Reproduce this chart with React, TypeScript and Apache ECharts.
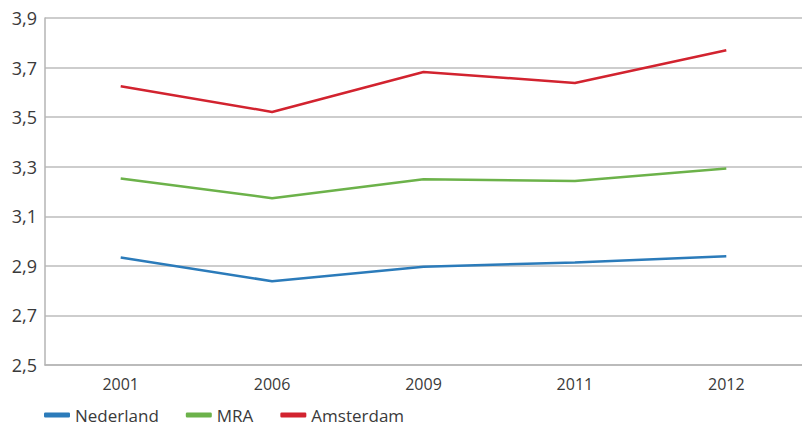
import React, { useEffect, useRef } from "react";
import * as echarts from "echarts";

const years = ["2001", "2006", "2009", "2011", "2012"];
const nederland = [2.934, 2.838, 2.896, 2.914, 2.939];
const mra = [3.252, 3.173, 3.249, 3.242, 3.293];
const amsterdam = [3.625, 3.521, 3.682, 3.638, 3.77];

const FONT = "'Open Sans', Lato, sans-serif";

export default function App() {
  const ref = useRef<HTMLDivElement>(null);
  useEffect(() => {
    const chart = echarts.init(ref.current!, null, { renderer: "svg" });
    const mk = (name: string, data: number[], color: string) => ({
      name,
      type: "line",
      data,
      symbol: "none",
      lineStyle: { color, width: 2.5 },
      itemStyle: { color },
    });
    chart.setOption({
      animation: false,
      backgroundColor: "#ffffff",
      grid: { left: 45, top: 18, width: 770, height: 347 },
      legend: {
        left: 44,
        top: 405,
        padding: 0,
        icon: "roundRect",
        itemWidth: 26,
        itemHeight: 5,
        itemGap: 27,
        textStyle: { fontFamily: FONT, fontSize: 17, lineHeight: 20, color: "#3a3a3a" },
        data: ["Nederland", "MRA", "Amsterdam"],
      },
      xAxis: {
        type: "category",
        data: years,
        boundaryGap: true,
        axisLine: { show: true, lineStyle: { color: "#b5b5b5", width: 1.5 } },
        axisTick: { show: false },
        axisLabel: { fontFamily: FONT, fontSize: 16, color: "#3a3a3a", margin: 11 },
      },
      yAxis: {
        type: "value",
        min: 2.5,
        max: 3.9,
        interval: 0.2,
        axisLine: { show: true, lineStyle: { color: "#b5b5b5", width: 1.5 } },
        axisTick: { show: false },
        splitLine: { lineStyle: { color: "#bdbdbd", width: 1.5 } },
        axisLabel: {
          fontFamily: FONT,
          fontSize: 18,
          color: "#3a3a3a",
          margin: 8,
          formatter: (v: number) => v.toFixed(1).replace(".", ","),
        },
      },
      series: [
        mk("Nederland", nederland, "#2b7bba"),
        mk("MRA", mra, "#6cb24a"),
        mk("Amsterdam", amsterdam, "#d2232f"),
      ],
    });
    return () => chart.dispose();
  }, []);
  return (
    <div
      ref={ref}
      style={{ position: "fixed", left: 0, top: 0, width: 802, height: 428 }}
    />
  );
}
